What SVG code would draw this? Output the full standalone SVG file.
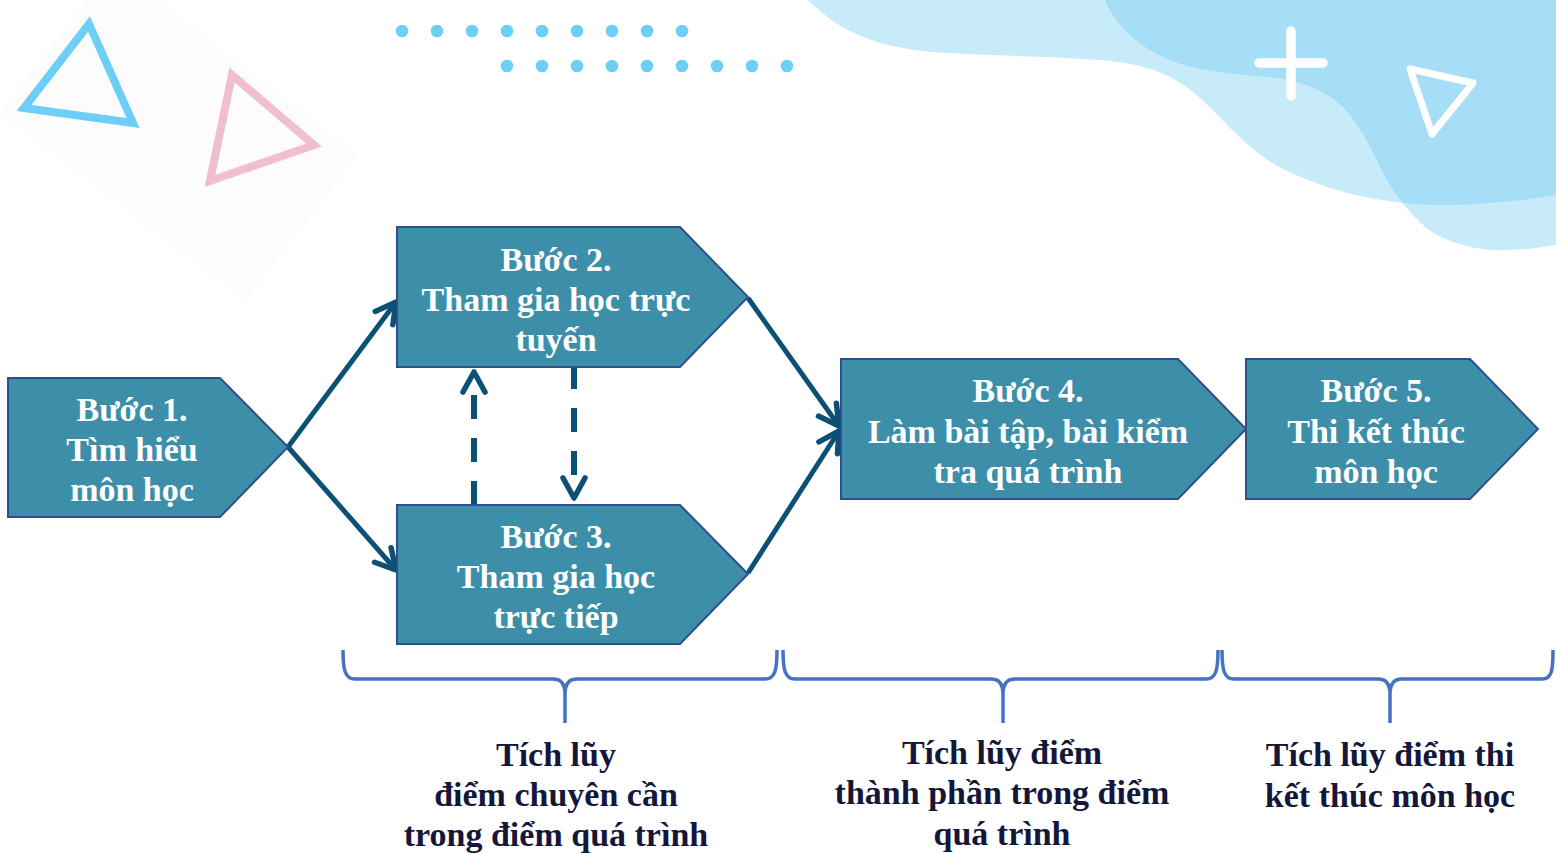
<svg xmlns="http://www.w3.org/2000/svg" width="1556" height="854" viewBox="0 0 1556 854">
  <style>
    .node { fill: #3d8fa9; stroke: #2f4f8c; stroke-width: 2; }
    .ntext { font-family: "Liberation Serif", "Times New Roman", serif; font-weight: bold; font-size: 34px; fill: #ffffff; text-anchor: middle; }
    .btext { font-family: "Liberation Serif", "Times New Roman", serif; font-weight: bold; font-size: 34px; fill: #15173a; text-anchor: middle; }
    .link { fill: none; stroke: #0c5175; stroke-width: 5; stroke-linecap: butt; marker-end: url(#chev); }
    .dash { fill: none; stroke: #0c5175; stroke-width: 6; stroke-dasharray: 24 19; marker-end: url(#chev); }
    .brace { fill: none; stroke: #4472c4; stroke-width: 3.5; stroke-linejoin: round; }
    .dot { fill: #6dcff6; }
    .blob { fill: #6fcbf2; opacity: 0.38; }
  </style>
  <defs>
    <marker id="chev" markerUnits="userSpaceOnUse" viewBox="-26 -16 32 32" refX="0" refY="0" markerWidth="32" markerHeight="32" orient="auto">
      <path d="M -20,-11 L 0,0 L -20,11" fill="none" stroke="#0c5175" stroke-width="5.5" stroke-linecap="round" stroke-linejoin="round"/>
    </marker>
  </defs>

  <rect width="1556" height="854" fill="#ffffff"/>

  <!-- decorative background -->
  <g id="decor">
    <polygon points="0,112 113,-33 358,155 245,300" fill="#fcfcfc"/>
    <polygon points="89,24 24,108 133,123" fill="none" stroke="#6dcff6" stroke-width="8" stroke-linejoin="miter"/>
    <polygon points="232,75 314,145 210,181" fill="none" stroke="#f0bdd1" stroke-width="8" stroke-linejoin="miter"/>
    <g>
      <circle class="dot" cx="402" cy="31" r="6.3"/>
      <circle class="dot" cx="437" cy="31" r="6.3"/>
      <circle class="dot" cx="472" cy="31" r="6.3"/>
      <circle class="dot" cx="507" cy="31" r="6.3"/>
      <circle class="dot" cx="542" cy="31" r="6.3"/>
      <circle class="dot" cx="577" cy="31" r="6.3"/>
      <circle class="dot" cx="612" cy="31" r="6.3"/>
      <circle class="dot" cx="647" cy="31" r="6.3"/>
      <circle class="dot" cx="682" cy="31" r="6.3"/>
      <circle class="dot" cx="507" cy="66" r="6.3"/>
      <circle class="dot" cx="542" cy="66" r="6.3"/>
      <circle class="dot" cx="577" cy="66" r="6.3"/>
      <circle class="dot" cx="612" cy="66" r="6.3"/>
      <circle class="dot" cx="647" cy="66" r="6.3"/>
      <circle class="dot" cx="682" cy="66" r="6.3"/>
      <circle class="dot" cx="717" cy="66" r="6.3"/>
      <circle class="dot" cx="752" cy="66" r="6.3"/>
      <circle class="dot" cx="787" cy="66" r="6.3"/>
    </g>
    <path class="blob" d="M 808,0 C 830,22 850,33 880,43 C 910,51 940,53 967,54 C 1010,56 1060,57 1100,60 C 1140,63 1165,72 1185,86 C 1210,104 1225,125 1243,140 C 1262,157 1275,166 1289,172 C 1320,186 1350,195 1376,199 C 1400,203 1420,205 1443,205 C 1480,205 1520,201 1556,195 L 1556,0 Z"/>
    <path class="blob" d="M 1105,0 C 1115,25 1140,50 1180,64 C 1210,73 1250,75 1276,78 C 1300,81 1325,90 1343,107 C 1360,125 1372,150 1383,173 C 1392,190 1405,210 1429,230 C 1445,241 1470,249 1493,250 C 1515,251 1540,248 1556,245 L 1556,0 Z"/>
    <path d="M 1291,31 V 96 M 1259,63 H 1323" fill="none" stroke="#ffffff" stroke-width="9.5" stroke-linecap="round"/>
    <polygon points="1410,69 1473,83 1432,134" fill="none" stroke="#ffffff" stroke-width="7" stroke-linejoin="round"/>
  </g>

  <!-- connectors -->
  <g id="connectors">
    <line class="link" x1="288" y1="447" x2="396" y2="302"/>
    <line class="link" x1="288" y1="447" x2="396" y2="570"/>
    <line class="link" x1="748" y1="298" x2="839" y2="426"/>
    <line class="link" x1="748" y1="573" x2="839" y2="431"/>
    <line class="dash" x1="474" y1="505" x2="474" y2="372"/>
    <line class="dash" x1="574" y1="365" x2="574" y2="498"/>
  </g>

  <g id="step1">
    <polygon class="node" points="8,378 220,378 288,447 220,517 8,517"/>
    <text class="ntext" x="132" y="421">Bước 1.</text>
    <text class="ntext" x="132" y="461">Tìm hiểu</text>
    <text class="ntext" x="132" y="501">môn học</text>
  </g>

  <g id="step2">
    <polygon class="node" points="397,227 680,227 748,297 680,367 397,367"/>
    <text class="ntext" x="556" y="271">Bước 2.</text>
    <text class="ntext" x="556" y="311">Tham gia học trực</text>
    <text class="ntext" x="556" y="351">tuyến</text>
  </g>

  <g id="step3">
    <polygon class="node" points="397,505 680,505 748,574 680,644 397,644"/>
    <text class="ntext" x="556" y="548">Bước 3.</text>
    <text class="ntext" x="556" y="588">Tham gia học</text>
    <text class="ntext" x="556" y="628">trực tiếp</text>
  </g>

  <g id="step4">
    <polygon class="node" points="841,359 1178,359 1246,429 1178,499 841,499"/>
    <text class="ntext" x="1028" y="402">Bước 4.</text>
    <text class="ntext" x="1028" y="443">Làm bài tập, bài kiểm</text>
    <text class="ntext" x="1028" y="483">tra quá trình</text>
  </g>

  <g id="step5">
    <polygon class="node" points="1246,359 1470,359 1538,429 1470,499 1246,499"/>
    <text class="ntext" x="1376" y="402">Bước 5.</text>
    <text class="ntext" x="1376" y="443">Thi kết thúc</text>
    <text class="ntext" x="1376" y="483">môn học</text>
  </g>

  <!-- braces and their notes -->
  <g id="group-attendance">
    <path class="brace" d="M 343,650 C 343,670 345,679 355,679 H 553 C 561,679 565,684 565,694 V 723 M 565,694 C 565,684 569,679 577,679 H 765 C 775,679 777,670 777,650"/>
    <text class="btext" x="556" y="766">Tích lũy</text>
    <text class="btext" x="556" y="806">điểm chuyên cần</text>
    <text class="btext" x="556" y="846">trong điểm quá trình</text>
  </g>

  <g id="group-components">
    <path class="brace" d="M 783,650 C 783,670 785,679 795,679 H 991 C 999,679 1003,684 1003,694 V 723 M 1003,694 C 1003,684 1007,679 1015,679 H 1206 C 1216,679 1218,670 1218,650"/>
    <text class="btext" x="1002" y="764">Tích lũy điểm</text>
    <text class="btext" x="1002" y="804">thành phần trong điểm</text>
    <text class="btext" x="1002" y="845">quá trình</text>
  </g>

  <g id="group-final">
    <path class="brace" d="M 1222,650 C 1222,670 1224,679 1234,679 H 1378 C 1386,679 1390,684 1390,694 V 723 M 1390,694 C 1390,684 1394,679 1402,679 H 1542 C 1552,679 1553,670 1553,650"/>
    <text class="btext" x="1390" y="766">Tích lũy điểm thi</text>
    <text class="btext" x="1390" y="807">kết thúc môn học</text>
  </g>
</svg>
